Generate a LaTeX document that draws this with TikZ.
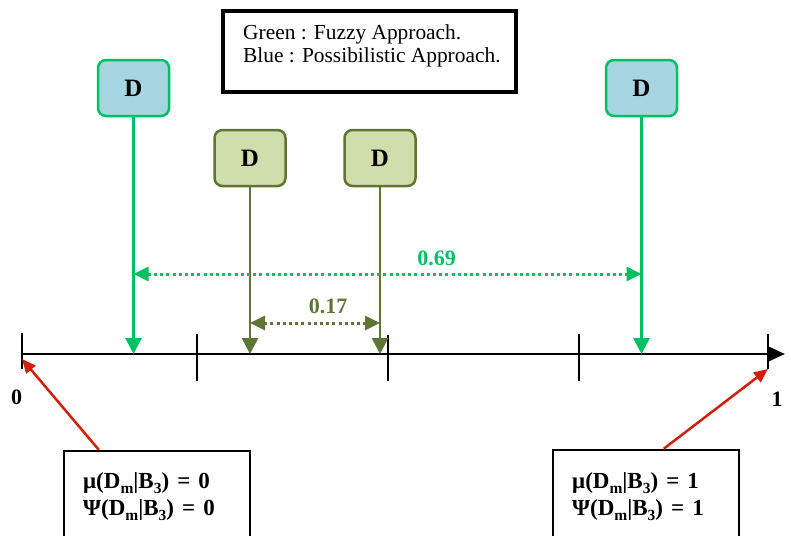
\documentclass[tikz,border=0pt]{standalone}
\usepackage{fontspec}
\setmainfont{Liberation Serif}
\usetikzlibrary{arrows.meta,calc}
\definecolor{fuzgreen}{RGB}{0,192,100}
\definecolor{posblue}{RGB}{166,214,226}
\definecolor{oliveline}{RGB}{94,117,52}
\definecolor{olivefill}{RGB}{208,221,172}
\definecolor{arrred}{RGB}{212,30,10}
\newcommand{\lowsub}[1]{\raisebox{-0.25em}{\fontsize{15.5}{15.5}\selectfont #1}}
\newcommand{\eqsp}{\hspace{0.35em}}
\begin{document}
\begin{tikzpicture}[x=1pt,y=-1pt,
  dbox/.style={draw, rounded corners=8pt, line width=2.5pt, minimum width=71pt, minimum height=56pt,
    font=\fontsize{25}{25}\selectfont\bfseries},
  bluebox/.style={dbox, draw=fuzgreen, fill=posblue},
  olivebox/.style={dbox, draw=oliveline, fill=olivefill},
  garrow/.style={draw=fuzgreen, line width=2.8pt, -{Triangle[length=16pt,width=16pt]}},
  oarrow/.style={draw=oliveline, line width=2.8pt, -{Triangle[length=16pt,width=16pt]}},
  gdot/.style={draw=fuzgreen, line width=3pt, dash pattern=on 3pt off 3.2pt,
    {Triangle[length=15pt,width=14pt]}-{Triangle[length=15pt,width=14pt]}},
  odot/.style={draw=oliveline, line width=3pt, dash pattern=on 3pt off 3.2pt,
    {Triangle[length=15pt,width=14pt]}-{Triangle[length=15pt,width=14pt]}},
  numlab/.style={font=\fontsize{22}{22}\selectfont\bfseries, inner sep=0pt},
  tickline/.style={draw=black, line width=2pt},
  infobox/.style={draw=black, line width=2.5pt, minimum width=186pt, minimum height=100pt},
  infotext/.style={anchor=base west, align=left, inner sep=0pt,
    font=\fontsize{23}{27}\selectfont\bfseries},
  redarrow/.style={draw=arrred, line width=2.5pt, -{Triangle[length=14pt,width=12pt]}}
]
\useasboundingbox (0,0) rectangle (791,535);

% legend
\node[draw=black, line width=4pt, minimum width=293pt, minimum height=81pt] (legend) at (369.5,51.5) {};
\node[anchor=base west, align=left, inner sep=0pt, font=\fontsize{21.4}{23}\selectfont] (legtext) at (243,63)
  {Green : Fuzzy Approach.\\Blue : Possibilistic Approach.};

% D boxes
\node[bluebox] (b1) at (133.5,88) {D};
\node[bluebox] (b4) at (641.5,88) {D};
\node[olivebox] (o2) at (250,158) {D};
\node[olivebox] (o3) at (380,158) {D};

% axis
\coordinate (a0) at (22,354);
\coordinate (a1) at (785,354);
\draw[line width=2.5pt, -{Triangle[length=16pt,width=14pt]}] (a0) -- (a1);

% ticks
\coordinate (t0top) at (22,333); \coordinate (t0bot) at (22,369);
\coordinate (t1top) at (197,334); \coordinate (t1bot) at (197,381);
\coordinate (t2top) at (388,335); \coordinate (t2bot) at (388,381);
\coordinate (t3top) at (579,334); \coordinate (t3bot) at (579,381);
\coordinate (t4top) at (768,334); \coordinate (t4bot) at (768,369);
\draw[tickline] (t0top) -- (t0bot);
\draw[tickline] (t1top) -- (t1bot);
\draw[tickline] (t2top) -- (t2bot);
\draw[tickline] (t3top) -- (t3bot);
\draw[tickline] (t4top) -- (t4bot);

% vertical arrows
\draw[garrow] (b1.south) -- (b1.south |- a0);
\draw[garrow] (b4.south) -- (b4.south |- a0);
\draw[oarrow] (o2.south) -- (o2.south |- a0);
\draw[oarrow] (o3.south) -- (o3.south |- a0);

% distances
\coordinate (gy) at (0,274);
\coordinate (oy) at (0,323);
\draw[gdot] (b1.south |- gy) -- (b4.south |- gy);
\draw[odot] (o2.south |- oy) -- (o3.south |- oy);
\node[numlab, text=fuzgreen] (l069) at (436.5,258.5) {0.69};
\node[numlab, text=oliveline] (l017) at (328,306) {0.17};

% end labels
\node[numlab] (zero) at (16.5,397) {0};
\node[numlab] (one) at (777,399) {1};

% info boxes
\node[infobox] (lbox) at (157,501) {};
\node[infobox] (rbox) at (646,500) {};
\node[infotext] (ltext) at (83,515) {μ(D\lowsub{m}|B\lowsub{3})\eqsp=\eqsp0\\Ψ(D\lowsub{m}|B\lowsub{3})\eqsp=\eqsp0};
\node[infotext] (rtext) at (572,515) {μ(D\lowsub{m}|B\lowsub{3})\eqsp=\eqsp1\\Ψ(D\lowsub{m}|B\lowsub{3})\eqsp=\eqsp1};

% red arrows
\coordinate (lptr) at (22,359);
\draw[redarrow] ($(lbox.north west)+(36,0)$) -- (lptr);
\draw[redarrow] ($(rbox.north west)+(112,0)$) -- (t4bot);
\end{tikzpicture}
\end{document}
